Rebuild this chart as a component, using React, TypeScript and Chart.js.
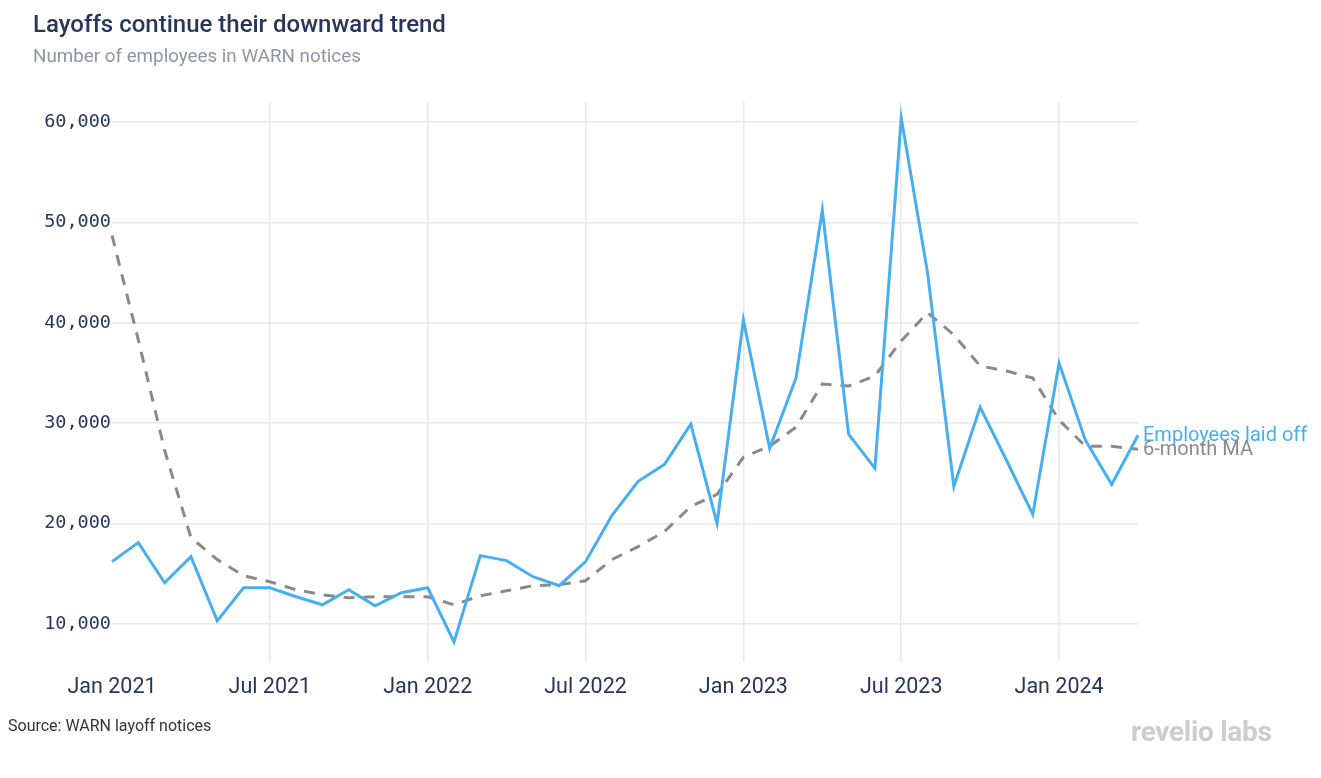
import React, { useEffect, useRef } from "react";
import { Chart, registerables } from "chart.js";

Chart.register(...registerables);

const monthNames = ["Jan", "Feb", "Mar", "Apr", "May", "Jun", "Jul", "Aug", "Sep", "Oct", "Nov", "Dec"];
const months: string[] = [];
for (let y = 2021; y <= 2024; y++) {
  for (let m = 0; m < 12; m++) {
    if (y === 2024 && m > 3) break;
    months.push(`${monthNames[m]} ${y}`);
  }
}

const employeesLaidOff = [
  16200, 18100, 14100, 16700, 10300, 13600, 13600, 12700, 11900, 13400, 11800, 13100,
  13600, 8200, 16800, 16300, 14700, 13800, 16200, 20800, 24200, 25900, 29900, 20000,
  40300, 27500, 34500, 51200, 28900, 25500, 60400, 45000, 23700, 31600, 26300, 20900,
  36000, 28300, 23900, 28800,
];

const movingAverage = [
  48700, 38300, 27300, 18600, 16400, 14800, 14200, 13400, 12900, 12600, 12700, 12700,
  12700, 11900, 12800, 13300, 13800, 13900, 14300, 16400, 17700, 19200, 21700, 22900,
  26600, 27700, 29600, 33900, 33700, 34700, 38200, 41000, 38800, 35700, 35200, 34500,
  30300, 27700, 27700, 27400,
];

const yTicks = [10000, 20000, 30000, 40000, 50000, 60000];

const BLUE = "#47aff0";
const GRAY = "#8a8a8a";
const NAVY = "#27365a";
const GRID = "#e8e8ee";

const endLabels = {
  id: "endLabels",
  afterDatasetsDraw(chart: any) {
    const ctx = chart.ctx;
    ctx.save();
    ctx.font = "20px Roboto";
    ctx.textBaseline = "middle";
    ctx.textAlign = "left";
    const labels = ["Employees laid off", "6-month MA"];
    const colors = [BLUE, GRAY];
    chart.data.datasets.forEach((_ds: any, i: number) => {
      const meta = chart.getDatasetMeta(i);
      const pt = meta.data[meta.data.length - 1];
      ctx.fillStyle = colors[i];
      ctx.fillText(labels[i], pt.x + 5, pt.y + 1);
    });
    ctx.restore();
  },
};

export default function App() {
  const ref = useRef<HTMLCanvasElement | null>(null);
  useEffect(() => {
    if (!ref.current) return;
    const chart = new Chart(ref.current, {
      type: "line",
      data: {
        labels: months,
        datasets: [
          {
            label: "Employees laid off",
            data: employeesLaidOff,
            borderColor: BLUE,
            borderWidth: 3,
            pointRadius: 0,
            tension: 0,
            fill: false,
          },
          {
            label: "6-month MA",
            data: movingAverage,
            borderColor: GRAY,
            borderWidth: 3,
            borderDash: [11, 9],
            pointRadius: 0,
            tension: 0,
            fill: false,
          },
        ],
      },
      options: {
        responsive: false,
        animation: false,
        layout: { padding: { left: 0, right: 183, top: 102, bottom: 76 } },
        plugins: { legend: { display: false }, tooltip: { enabled: false } },
        scales: {
          x: {
            type: "category",
            offset: false,
            border: { display: false },
            grid: {
              drawTicks: false,
              lineWidth: 1.5,
              color: (c: any) => (c.index % 6 === 0 && c.index > 0 ? GRID : "rgba(0,0,0,0)"),
            },
            ticks: {
              autoSkip: false,
              maxRotation: 0,
              padding: 13,
              color: NAVY,
              font: { family: "Roboto", size: 21.5 },
              callback: (_v: any, i: number) => (i % 6 === 0 ? months[i] : ""),
            },
            afterFit: (s: any) => {
              s.height = 40;
            },
          },
          y: {
            min: 6200,
            max: 62000,
            border: { display: false },
            grid: { drawTicks: false, lineWidth: 1.5, color: GRID },
            afterBuildTicks: (s: any) => {
              s.ticks = yTicks.map((v) => ({ value: v }));
            },
            ticks: {
              padding: 1,
              color: NAVY,
              font: { family: "DejaVu Sans Mono", size: 18.5 },
              callback: (v: any) => Number(v).toLocaleString("en-US"),
            },
            afterFit: (s: any) => {
              s.width = 112;
            },
          },
        },
      },
      plugins: [endLabels],
    });
    return () => chart.destroy();
  }, []);

  return (
    <div style={{ position: "absolute", left: 0, top: 0, width: 1321, height: 778, background: "#fff", fontFamily: "Roboto" }}>
      <canvas ref={ref} width={1321} height={778} style={{ position: "absolute", left: 0, top: 0 }} />
      <div style={{ position: "absolute", left: 33, top: 10, fontSize: 24, fontWeight: 500, color: NAVY, whiteSpace: "nowrap" }}>
        Layoffs continue their downward trend
      </div>
      <div style={{ position: "absolute", left: 33, top: 45, fontSize: 18.8, color: "#8e979f", whiteSpace: "nowrap" }}>
        Number of employees in WARN notices
      </div>
      <div style={{ position: "absolute", left: 8, top: 716, fontSize: 16, color: "#333", whiteSpace: "nowrap" }}>
        Source: WARN layoff notices
      </div>
      <div style={{ position: "absolute", left: 1131, top: 715, fontSize: 28, fontWeight: 700, color: "#cdcdd1", whiteSpace: "nowrap", letterSpacing: -0.3 }}>
        revelio labs
      </div>
    </div>
  );
}
